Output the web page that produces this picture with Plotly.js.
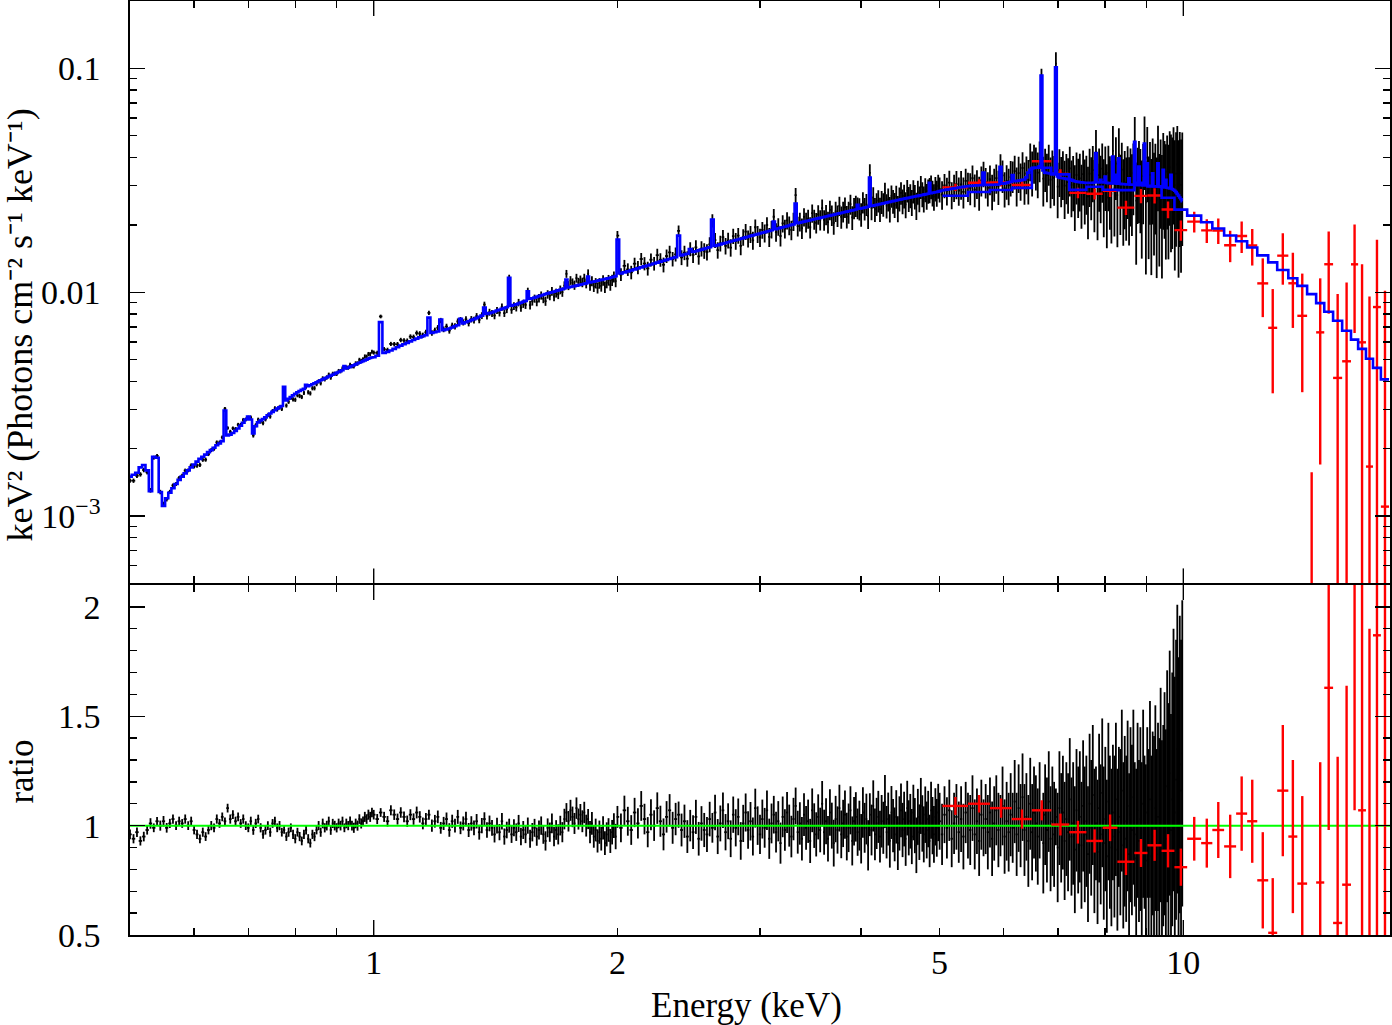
<!DOCTYPE html>
<html>
<head>
<meta charset="utf-8">
<script src="https://cdn.plot.ly/plotly-3.0.1.min.js"></script>
<style>
  html, body { margin: 0; padding: 0; background: #fff; }
  #chart { width: 1392px; height: 1025px; }
</style>
</head>
<body>
<div id="chart"></div>
<script>
// ---------------------------------------------------------------------------
// Spectrum 1 (black): grouped channels 0.5-10 keV
// channel centre energy (keV), folded model (keV^2 photons/cm^2/s/keV),
// data/model ratio and its 1-sigma error
// ---------------------------------------------------------------------------
const blackEnergy = [
  0.500,0.505,0.510,0.515,0.520,0.525,0.530,0.535,0.540,0.545,
  0.550,0.555,0.560,0.565,0.570,0.575,0.580,0.585,0.590,0.595,
  0.600,0.605,0.610,0.615,0.620,0.625,0.630,0.635,0.640,0.645,
  0.650,0.655,0.660,0.665,0.670,0.675,0.680,0.685,0.690,0.695,
  0.700,0.705,0.710,0.715,0.720,0.725,0.730,0.735,0.740,0.745,
  0.750,0.755,0.760,0.765,0.770,0.775,0.780,0.785,0.790,0.795,
  0.800,0.805,0.810,0.815,0.820,0.825,0.830,0.835,0.840,0.845,
  0.850,0.855,0.860,0.865,0.870,0.875,0.880,0.885,0.890,0.895,
  0.900,0.905,0.910,0.915,0.920,0.925,0.930,0.935,0.940,0.945,
  0.950,0.955,0.960,0.965,0.970,0.975,0.980,0.985,0.990,0.995,
  1.00,1.01,1.02,1.03,1.04,1.05,1.06,1.07,1.08,1.09,
  1.10,1.11,1.12,1.13,1.14,1.15,1.16,1.17,1.18,1.19,
  1.20,1.21,1.22,1.23,1.24,1.25,1.26,1.27,1.28,1.29,
  1.30,1.31,1.32,1.33,1.34,1.35,1.36,1.37,1.38,1.39,
  1.40,1.41,1.42,1.43,1.44,1.45,1.46,1.47,1.48,1.49,
  1.50,1.51,1.52,1.53,1.54,1.55,1.56,1.57,1.58,1.59,
  1.60,1.61,1.62,1.63,1.64,1.65,1.66,1.67,1.68,1.69,
  1.70,1.71,1.72,1.73,1.74,1.75,1.76,1.77,1.78,1.79,
  1.80,1.81,1.82,1.83,1.84,1.85,1.86,1.87,1.88,1.89,
  1.90,1.91,1.92,1.93,1.94,1.95,1.96,1.97,1.98,1.99,
  2.00,2.02,2.04,2.06,2.08,2.10,2.12,2.14,2.16,2.18,
  2.20,2.22,2.24,2.26,2.28,2.30,2.32,2.34,2.36,2.38,
  2.40,2.42,2.44,2.46,2.48,2.50,2.52,2.54,2.56,2.58,
  2.60,2.62,2.64,2.66,2.68,2.70,2.72,2.74,2.76,2.78,
  2.80,2.82,2.84,2.86,2.88,2.90,2.92,2.94,2.96,2.98,
  3.00,3.02,3.04,3.06,3.08,3.10,3.12,3.14,3.16,3.18,
  3.20,3.22,3.24,3.26,3.28,3.30,3.32,3.34,3.36,3.38,
  3.40,3.42,3.44,3.46,3.48,3.50,3.52,3.54,3.56,3.58,
  3.60,3.62,3.64,3.66,3.68,3.70,3.72,3.74,3.76,3.78,
  3.80,3.82,3.84,3.86,3.88,3.90,3.92,3.94,3.96,3.98,
  4.00,4.02,4.04,4.06,4.08,4.10,4.12,4.14,4.16,4.18,
  4.20,4.22,4.24,4.26,4.28,4.30,4.32,4.34,4.36,4.38,
  4.40,4.42,4.44,4.46,4.48,4.50,4.52,4.54,4.56,4.58,
  4.60,4.62,4.64,4.66,4.68,4.70,4.72,4.74,4.76,4.78,
  4.80,4.82,4.84,4.86,4.88,4.90,4.92,4.94,4.96,4.98,
  5.000,5.035,5.070,5.105,5.140,5.175,5.210,5.245,5.280,5.315,
  5.350,5.385,5.420,5.455,5.490,5.525,5.560,5.595,5.630,5.665,
  5.700,5.735,5.770,5.805,5.840,5.875,5.910,5.945,5.980,6.015,
  6.050,6.085,6.120,6.155,6.190,6.225,6.260,6.295,6.330,6.365,
  6.400,6.435,6.470,6.505,6.540,6.575,6.610,6.645,6.680,6.715,
  6.750,6.785,6.820,6.855,6.890,6.925,6.960,6.995,7.030,7.065,
  7.100,7.135,7.170,7.205,7.240,7.275,7.310,7.345,7.380,7.415,
  7.450,7.485,7.520,7.555,7.590,7.625,7.660,7.695,7.730,7.765,
  7.800,7.835,7.870,7.905,7.940,7.975,8.010,8.045,8.080,8.115,
  8.150,8.185,8.220,8.255,8.290,8.325,8.360,8.395,8.430,8.465,
  8.500,8.535,8.570,8.605,8.640,8.675,8.710,8.745,8.780,8.815,
  8.850,8.885,8.920,8.955,8.990,9.025,9.060,9.095,9.130,9.165,
  9.200,9.235,9.270,9.305,9.340,9.375,9.410,9.445,9.480,9.515,
  9.550,9.585,9.620,9.655,9.690,9.725,9.760,9.795,9.830,9.865,
  9.900,9.935,9.970
];

const blackModel = [
  0.00150,0.00153,0.00156,0.00165,0.00169,0.00160,0.00129,0.00184,0.00182,0.00128,
  0.00111,0.00120,0.00127,0.00133,0.00139,0.00145,0.00150,0.00155,0.00160,0.00165,
  0.00170,0.00175,0.00180,0.00184,0.00188,0.00193,0.00197,0.00202,0.00207,0.00211,
  0.00216,0.00296,0.00229,0.00231,0.00235,0.00240,0.00246,0.00253,0.00261,0.00270,
  0.00278,0.00270,0.00234,0.00252,0.00262,0.00267,0.00271,0.00276,0.00282,0.00287,
  0.00292,0.00297,0.00302,0.00306,0.00310,0.00378,0.00328,0.00334,0.00340,0.00346,
  0.00352,0.00357,0.00362,0.00366,0.00370,0.00386,0.00380,0.00384,0.00388,0.00392,
  0.00396,0.00400,0.00404,0.00408,0.00412,0.00416,0.00420,0.00424,0.00428,0.00432,
  0.00436,0.00440,0.00444,0.00448,0.00468,0.00456,0.00460,0.00464,0.00468,0.00472,
  0.00476,0.00480,0.00484,0.00488,0.00492,0.00496,0.00500,0.00504,0.00508,0.00511,
  0.00512,0.00520,0.00735,0.00535,0.00541,0.00549,0.00558,0.00568,0.00577,0.00585,
  0.00594,0.00603,0.00612,0.00620,0.00628,0.00636,0.00643,0.00770,0.00657,0.00662,
  0.00667,0.00755,0.00676,0.00682,0.00688,0.00696,0.00704,0.00712,0.00760,0.00726,
  0.00734,0.00742,0.00750,0.00758,0.00766,0.00776,0.00786,0.00855,0.00800,0.00806,
  0.00812,0.00820,0.00828,0.00835,0.00842,0.00849,0.00856,0.01160,0.00870,0.00876,
  0.00882,0.00890,0.00898,0.00906,0.00915,0.01010,0.00932,0.00939,0.00946,0.00953,
  0.00960,0.00967,0.00974,0.00981,0.00988,0.00994,0.01000,0.01006,0.01012,0.01019,
  0.01025,0.01032,0.01038,0.01140,0.01050,0.01055,0.01060,0.01065,0.01070,0.01075,
  0.01080,0.01085,0.01090,0.01095,0.01175,0.01105,0.01110,0.01115,0.01120,0.01125,
  0.01130,0.01135,0.01140,0.01145,0.01150,0.01155,0.01160,0.01166,0.01172,0.01180,
  0.01720,0.01213,0.01226,0.01239,0.01252,0.01265,0.01278,0.01291,0.01304,0.01317,
  0.01330,0.01343,0.01356,0.01369,0.01382,0.01395,0.01408,0.01421,0.01434,0.01790,
  0.01460,0.01473,0.01486,0.01560,0.01512,0.01525,0.01538,0.01550,0.01562,0.01575,
  0.01587,0.02110,0.01611,0.01623,0.01636,0.01648,0.01660,0.01672,0.01684,0.01697,
  0.01709,0.01721,0.01733,0.01745,0.01758,0.01770,0.01782,0.01794,0.01806,0.01818,
  0.01830,0.01842,0.01854,0.01866,0.01878,0.01890,0.02070,0.01914,0.01926,0.01938,
  0.01950,0.01962,0.01974,0.01986,0.01998,0.02010,0.02490,0.02034,0.02046,0.02056,
  0.02066,0.02077,0.02087,0.02097,0.02107,0.02118,0.02128,0.02138,0.02148,0.02158,
  0.02168,0.02179,0.02189,0.02199,0.02209,0.02219,0.02230,0.02240,0.02250,0.02260,
  0.02270,0.02281,0.02291,0.02301,0.02311,0.02321,0.02330,0.02340,0.02460,0.02359,
  0.02369,0.02378,0.02388,0.02398,0.02407,0.03250,0.02426,0.02436,0.02445,0.02455,
  0.02465,0.02474,0.02484,0.02493,0.02503,0.02513,0.02522,0.02532,0.02541,0.02551,
  0.02561,0.02570,0.02580,0.02589,0.02599,0.02608,0.02616,0.02625,0.02633,0.02642,
  0.02651,0.02659,0.02668,0.02676,0.02685,0.02694,0.02702,0.02711,0.02719,0.02728,
  0.02737,0.02745,0.02754,0.03080,0.02771,0.02780,0.02788,0.02797,0.02805,0.02814,
  0.02830,0.02845,0.02860,0.02872,0.02885,0.02898,0.02910,0.02922,0.02935,0.02945,
  0.02955,0.02965,0.02975,0.02983,0.02990,0.02995,0.03000,0.03005,0.03010,0.03420,
  0.03014,0.03015,0.03016,0.03018,0.03020,0.03025,0.03030,0.03630,0.03050,0.03065,
  0.03080,0.03095,0.03110,0.03340,0.03130,0.03140,0.03150,0.03160,0.03175,0.03190,
  0.03260,0.03420,0.03520,0.03570,0.03590,0.03600,0.03600,0.03650,0.09300,0.03500,
  0.03420,0.03410,0.03400,0.03390,0.03385,0.03380,0.10100,0.03290,0.03250,0.03240,
  0.03230,0.03220,0.03210,0.03200,0.03190,0.03180,0.03150,0.03130,0.03120,0.03110,
  0.03100,0.03095,0.03090,0.03085,0.03080,0.03080,0.03080,0.03080,0.03080,0.03090,
  0.04180,0.03100,0.03090,0.03180,0.03100,0.03090,0.03290,0.03080,0.03070,0.03070,
  0.03060,0.04040,0.03060,0.03350,0.03050,0.03970,0.03050,0.03040,0.03040,0.03035,
  0.03030,0.03030,0.03230,0.03025,0.03020,0.03020,0.04700,0.03015,0.03010,0.03640,
  0.03010,0.03005,0.03000,0.04620,0.03000,0.03770,0.02990,0.02985,0.02980,0.03400,
  0.02975,0.02970,0.02965,0.03770,0.02960,0.02955,0.02950,0.03520,0.02940,0.03180,
  0.02930,0.02920,0.02910,0.03350,0.02890,0.02870,0.02840,0.02800,0.02750,0.02700,
  0.02650,0.02600,0.02550
];

const blackRatio = [
  0.96,0.94,0.97,0.93,0.95,0.98,1.01,0.99,1.02,1.00,
  1.02,0.99,1.01,1.03,1.00,1.02,1.01,1.03,1.00,1.02,
  0.98,0.96,0.94,0.97,0.95,0.98,1.00,0.99,1.03,1.01,
  1.04,1.02,1.08,1.03,1.05,1.02,1.04,1.01,1.03,1.00,
  0.99,1.02,0.98,1.01,1.03,0.99,0.96,0.98,1.00,0.97,
  1.01,1.02,0.99,1.00,0.97,0.98,0.95,0.97,0.99,0.96,
  0.94,0.97,0.95,0.93,0.96,0.98,0.94,0.92,0.96,0.95,
  0.98,1.00,0.97,1.01,0.99,1.00,1.02,0.98,1.01,1.00,
  0.99,1.01,1.00,1.02,0.99,1.01,1.00,1.02,1.00,0.99,
  1.01,1.00,1.03,1.01,1.02,1.04,1.03,1.05,1.04,1.06,
  1.05,1.03,1.06,1.04,1.02,1.07,1.05,1.03,1.06,1.04,
  1.02,1.05,1.03,1.06,1.04,1.01,1.03,1.05,1.00,1.02,
  1.04,0.99,1.01,1.03,0.98,1.02,1.00,1.04,0.99,1.01,
  1.03,0.98,1.01,0.99,1.02,0.97,1.00,1.03,0.98,1.01,
  0.99,0.96,1.00,0.97,1.02,0.95,0.98,1.00,0.96,0.99,
  0.97,1.01,0.95,0.98,0.96,1.00,0.94,0.97,0.99,0.95,
  0.98,1.00,0.96,0.93,0.99,0.97,1.01,0.95,0.98,0.96,
  1.00,0.97,1.03,1.06,1.02,1.07,1.04,1.01,1.08,1.03,
  1.05,1.02,1.06,1.00,1.03,0.97,1.01,0.95,0.98,0.93,
  0.97,0.94,0.99,0.92,0.96,0.98,0.93,0.97,1.00,0.95,
  1.04,0.99,1.07,1.02,0.98,1.06,1.01,1.09,1.03,0.97,
  1.05,1.00,1.08,1.02,0.96,1.04,1.07,0.99,1.03,1.05,
  0.98,1.02,0.95,1.00,0.97,1.04,0.94,1.01,0.98,0.96,
  1.03,0.99,1.06,0.95,1.01,1.07,0.97,1.02,0.94,1.05,
  0.99,1.04,0.93,1.01,1.06,0.98,1.02,0.95,1.08,1.00,
  0.96,1.03,0.99,1.07,0.94,1.01,1.05,0.97,1.02,0.92,
  1.04,0.98,1.06,1.00,0.95,1.03,1.09,0.97,1.01,0.94,
  1.05,0.99,1.02,0.93,1.07,1.00,0.96,1.04,0.98,1.10,
  0.97,1.02,0.94,1.06,1.00,0.92,1.03,0.98,1.08,0.96,
  1.01,1.05,0.95,0.99,1.07,0.93,1.02,1.04,0.97,1.00,
  0.94,1.06,0.99,1.03,0.91,1.05,0.98,1.09,0.96,1.01,
  1.04,0.95,1.02,0.99,1.11,0.97,1.03,0.93,1.06,1.00,
  0.96,1.04,0.92,1.01,1.07,0.98,1.03,0.94,1.08,0.99,
  1.02,0.95,1.06,1.00,0.91,1.04,0.97,1.09,1.01,0.96,
  1.05,0.98,1.03,0.93,1.07,1.00,0.96,1.04,0.99,1.06,
  1.02,0.96,1.05,0.99,1.07,0.94,1.01,1.04,0.97,1.03,
  0.95,1.06,1.00,0.98,1.08,0.96,1.02,0.93,1.05,0.99,
  1.03,0.97,1.06,0.94,1.01,1.07,0.98,1.00,1.09,0.95,
  1.02,0.97,1.05,0.99,1.11,0.96,1.08,1.00,1.13,0.98,
  1.04,0.93,1.10,0.97,1.06,1.01,0.95,1.07,1.00,0.92,
  1.05,0.98,1.11,0.94,1.02,0.96,1.04,0.90,1.08,0.99,
  1.06,0.93,1.03,0.97,1.12,0.95,1.01,0.89,1.07,0.98,
  1.04,0.91,1.09,0.96,1.02,0.87,1.10,0.99,1.14,0.93,
  1.01,0.88,1.08,0.96,1.15,0.92,1.03,0.86,1.11,0.97,
  0.90,1.06,0.95,1.12,0.89,1.04,0.97,1.16,0.91,1.02,
  0.94,1.09,0.87,1.05,0.98,1.13,0.96,0.85,1.07,0.93,
  1.03,0.88,1.10,0.97,0.84,1.06,0.91,1.12,0.86,1.01,
  0.95,1.08,0.87,1.04,0.92,1.14,0.89,1.00,1.10,0.94,
  1.18,1.02,1.24,0.98,1.12,1.30,1.06,1.21,1.35,1.10,
  1.28,1.16,1.33
];

const blackRatioErr = [
  0.022,0.021,0.022,0.021,0.022,0.021,0.024,0.020,0.020,0.023,
  0.024,0.022,0.021,0.021,0.020,0.021,0.020,0.021,0.020,0.021,
  0.020,0.021,0.020,0.021,0.020,0.020,0.021,0.020,0.021,0.020,
  0.020,0.017,0.020,0.021,0.020,0.021,0.020,0.020,0.021,0.020,
  0.020,0.021,0.022,0.021,0.020,0.021,0.020,0.021,0.020,0.021,
  0.020,0.021,0.020,0.021,0.020,0.017,0.020,0.021,0.020,0.021,
  0.021,0.020,0.021,0.020,0.021,0.020,0.021,0.020,0.021,0.021,
  0.020,0.021,0.021,0.022,0.021,0.022,0.021,0.022,0.021,0.022,
  0.021,0.022,0.022,0.021,0.020,0.022,0.021,0.022,0.022,0.023,
  0.022,0.023,0.022,0.023,0.022,0.023,0.022,0.023,0.023,0.022,
  0.022,0.023,0.020,0.023,0.024,0.023,0.024,0.025,0.024,0.025,
  0.026,0.025,0.026,0.027,0.026,0.027,0.028,0.023,0.028,0.029,
  0.029,0.027,0.030,0.030,0.031,0.030,0.031,0.032,0.029,0.032,
  0.033,0.032,0.033,0.034,0.033,0.034,0.035,0.031,0.035,0.036,
  0.036,0.037,0.036,0.037,0.038,0.037,0.038,0.032,0.039,0.039,
  0.040,0.039,0.040,0.041,0.040,0.037,0.041,0.042,0.041,0.042,
  0.043,0.042,0.043,0.044,0.043,0.044,0.045,0.044,0.045,0.046,
  0.045,0.046,0.047,0.043,0.047,0.048,0.047,0.048,0.049,0.048,
  0.049,0.050,0.049,0.050,0.046,0.051,0.052,0.051,0.052,0.053,
  0.053,0.054,0.053,0.054,0.055,0.054,0.055,0.056,0.057,0.058,
  0.050,0.066,0.067,0.066,0.068,0.067,0.069,0.068,0.070,0.069,
  0.071,0.070,0.072,0.071,0.073,0.072,0.074,0.073,0.074,0.060,
  0.075,0.076,0.075,0.072,0.077,0.078,0.077,0.079,0.078,0.080,
  0.079,0.068,0.081,0.080,0.082,0.081,0.083,0.082,0.084,0.083,
  0.085,0.084,0.086,0.085,0.087,0.086,0.088,0.087,0.089,0.088,
  0.090,0.089,0.091,0.090,0.092,0.091,0.086,0.093,0.092,0.094,
  0.093,0.095,0.094,0.096,0.095,0.097,0.084,0.098,0.097,0.099,
  0.098,0.100,0.099,0.101,0.100,0.102,0.101,0.103,0.102,0.104,
  0.103,0.105,0.104,0.106,0.105,0.107,0.106,0.108,0.107,0.109,
  0.108,0.110,0.109,0.111,0.110,0.112,0.111,0.113,0.108,0.114,
  0.113,0.115,0.114,0.116,0.115,0.098,0.116,0.117,0.118,0.117,
  0.119,0.118,0.120,0.119,0.121,0.120,0.121,0.122,0.121,0.122,
  0.123,0.122,0.123,0.124,0.123,0.124,0.125,0.124,0.125,0.126,
  0.125,0.126,0.127,0.126,0.127,0.128,0.127,0.128,0.129,0.128,
  0.129,0.130,0.129,0.120,0.130,0.131,0.130,0.131,0.132,0.131,
  0.13,0.14,0.13,0.14,0.14,0.13,0.14,0.15,0.14,0.15,
  0.15,0.14,0.15,0.16,0.15,0.16,0.15,0.16,0.16,0.13,
  0.16,0.17,0.16,0.17,0.17,0.16,0.17,0.14,0.18,0.17,
  0.18,0.18,0.19,0.16,0.19,0.19,0.20,0.19,0.20,0.21,
  0.20,0.21,0.21,0.22,0.21,0.22,0.22,0.22,0.07,0.23,
  0.23,0.24,0.23,0.24,0.25,0.24,0.13,0.25,0.26,0.25,
  0.26,0.27,0.26,0.27,0.28,0.27,0.28,0.29,0.28,0.29,
  0.30,0.29,0.30,0.31,0.30,0.31,0.32,0.31,0.32,0.33,
  0.26,0.33,0.34,0.32,0.34,0.35,0.33,0.35,0.36,0.35,
  0.36,0.31,0.37,0.35,0.37,0.32,0.38,0.37,0.38,0.39,
  0.38,0.39,0.37,0.40,0.39,0.40,0.33,0.41,0.40,0.37,
  0.42,0.41,0.43,0.35,0.44,0.39,0.44,0.45,0.46,0.42,
  0.46,0.47,0.48,0.43,0.48,0.49,0.50,0.46,0.51,0.50,
  0.53,0.54,0.56,0.53,0.58,0.60,0.62,0.64,0.66,0.67,
  0.68,0.69,0.70
];

// ---------------------------------------------------------------------------
// Spectrum 2 (red): coarse bins 5-18 keV
// bin edges (keV), folded model per bin, data/model ratio and its error
// ---------------------------------------------------------------------------
const redEdges = [
  5.04,5.42,5.77,6.14,6.50,6.87,7.23,7.59,7.95,8.29,8.70,9.03,9.40,9.75,
  10.11,10.52,10.86,11.23,11.62,11.99,12.34,12.73,13.06,13.48,13.83,14.22,
  14.59,14.93,15.31,15.71,16.11,16.44,16.81,17.15,17.54,17.95
];
const redModel = [
  0.02698,0.02803,0.02861,0.02926,0.03597,0.03362,0.02864,0.02959,0.02867,0.02858,
  0.03080,0.02971,0.02644,0.02339,0.02199,0.02053,0.01925,0.01792,0.01690,0.01585,
  0.01460,0.01359,0.01256,0.01154,0.01067,0.00980,0.00894,0.00818,0.00746,0.00673,
  0.00614,0.00558,0.00504,0.00459,0.00408
];
const redRatio = [
  1.09,1.10,1.08,1.03,1.07,1.005,0.97,0.93,0.99,0.835,
  0.875,0.91,0.885,0.81,0.94,0.92,0.98,0.905,1.055,1.02,
  0.75,0.51,1.16,0.95,0.735,0.02,0.74,1.63,0.555,0.73,
  2.17,1.07,0.33,1.87,0.27
];
const redRatioErr = [
  0.041,0.040,0.044,0.044,0.046,0.050,0.052,0.053,0.061,0.061,
  0.064,0.071,0.076,0.085,0.100,0.112,0.128,0.145,0.170,0.190,
  0.220,0.250,0.300,0.350,0.400,0.140,0.550,0.650,0.760,0.910,
  1.100,1.320,1.570,1.870,2.220
];

// Axis settings
const X_RANGE = [0.5, 18];                 // keV
const Y_TOP_RANGE = [5e-4, 0.2];           // keV^2 photons cm^-2 s^-1 keV^-1
const Y_RATIO_RANGE = [0.5, 2.1];
const X_TICKS = [1, 2, 5, 10];
const X_DECADE_TICKS = [1, 10];
const X_MINOR = [0.6, 0.7, 0.8, 0.9, 3, 4, 6, 7, 8, 9];
const Y_TOP_TICKS = [0.001, 0.01, 0.1];
const Y_TOP_TICKTEXT = ['10<sup>\u22123</sup>', '0.01', '0.1'];
const Y_TOP_MINOR = [6e-4, 7e-4, 8e-4, 9e-4, 2e-3, 3e-3, 4e-3, 5e-3, 6e-3, 7e-3, 8e-3, 9e-3,
                     0.02, 0.03, 0.04, 0.05, 0.06, 0.07, 0.08, 0.09, 0.2];
const Y_RATIO_TICKS = [0.5, 1, 1.5, 2];
const Y_RATIO_MINOR = [0.6, 0.7, 0.8, 0.9, 1.1, 1.2, 1.3, 1.4, 1.6, 1.7, 1.8, 1.9];

// ---------------------------------------------------------------------------
// Derived quantities
// ---------------------------------------------------------------------------
const blackFlux = blackModel.map((m, i) => m * blackRatio[i]);
const blackFluxErr = blackModel.map((m, i) => m * blackRatioErr[i]);
const blackHalfLo = blackEnergy.map((e, i, a) =>
  i > 0 ? (e - a[i - 1]) / 2 : (a[1] - a[0]) / 2);
const blackHalfHi = blackEnergy.map((e, i, a) =>
  i < a.length - 1 ? (a[i + 1] - e) / 2 : (e - a[i - 1]) / 2);

const redCentre = redModel.map((_, i) => (redEdges[i] + redEdges[i + 1]) / 2);
const redHalfLo = redCentre.map((c, i) => c - redEdges[i]);
const redHalfHi = redCentre.map((c, i) => redEdges[i + 1] - c);
const redFlux = redModel.map((m, i) => m * redRatio[i]);
const redFluxErr = redModel.map((m, i) => m * redRatioErr[i]);
const redModelStep = redModel.concat([redModel[redModel.length - 1]]);

const BLACK = '#000000', RED = '#ff0000', BLUE = '#0000ff', GREEN = '#00ff00';
const FONT = 'Liberation Serif, Times New Roman, serif';

function errX(lo, hi, color, w) {
  return { type: 'data', symmetric: false, array: hi, arrayminus: lo,
           color: color, thickness: w, width: 0 };
}
function errY(arr, color, w) {
  return { type: 'data', symmetric: true, array: arr, color: color, thickness: w, width: 0 };
}
const hidden = { size: 1, color: 'rgba(0,0,0,0)' };

const traces = [
  // upper panel: unfolded spectra
  { x: blackEnergy, y: blackFlux, xaxis: 'x', yaxis: 'y', mode: 'markers', marker: hidden,
    error_x: errX(blackHalfLo, blackHalfHi, BLACK, 1.8),
    error_y: errY(blackFluxErr, BLACK, 1.8), hoverinfo: 'skip' },
  { x: redCentre, y: redFlux, xaxis: 'x', yaxis: 'y', mode: 'markers', marker: hidden,
    error_x: errX(redHalfLo, redHalfHi, RED, 2.4),
    error_y: errY(redFluxErr, RED, 2.4), hoverinfo: 'skip' },
  { x: blackEnergy, y: blackModel, xaxis: 'x', yaxis: 'y', mode: 'lines',
    line: { color: BLUE, width: 2.6, shape: 'hvh', simplify: false }, hoverinfo: 'skip' },
  { x: redEdges, y: redModelStep, xaxis: 'x', yaxis: 'y', mode: 'lines',
    line: { color: BLUE, width: 2.6, shape: 'hv', simplify: false }, hoverinfo: 'skip' },

  // lower panel: data / model
  { x: blackEnergy, y: blackRatio, xaxis: 'x', yaxis: 'y2', mode: 'markers', marker: hidden,
    error_x: errX(blackHalfLo, blackHalfHi, BLACK, 1.8),
    error_y: errY(blackRatioErr, BLACK, 1.8), hoverinfo: 'skip' },
  { x: X_RANGE, y: [1, 1], xaxis: 'x', yaxis: 'y2', mode: 'lines',
    line: { color: GREEN, width: 2 }, hoverinfo: 'skip' },
  { x: redCentre, y: redRatio, xaxis: 'x', yaxis: 'y2', mode: 'markers', marker: hidden,
    error_x: errX(redHalfLo, redHalfHi, RED, 2.4),
    error_y: errY(redRatioErr, RED, 2.4), hoverinfo: 'skip' }
];

const LINE_W = 1.6;
const tickCommon = {
  ticks: 'inside', tickcolor: BLACK, tickwidth: 1.4,
  showline: true, linecolor: BLACK, linewidth: LINE_W,
  showgrid: false, zeroline: false,
  tickfont: { family: FONT, size: 34, color: BLACK }
};
const minorCommon = { ticks: 'inside', ticklen: 7, tickwidth: 1.4, tickcolor: BLACK,
                      showgrid: false, tickmode: 'array' };

// panel split: lower panel 350 px of the 934 px plot height; the upper panel
// starts one line width higher so that the two frame lines coincide
const PLOT_H = 934;
const splitFrac = 350 / PLOT_H;
const topStart = splitFrac + LINE_W / PLOT_H;

// long decade ticks at 1 and 10 keV on every horizontal frame edge
const lx0 = Math.log10(X_RANGE[0]), lx1 = Math.log10(X_RANGE[1]);
const shapes = [];
X_DECADE_TICKS.forEach(v => {
  const fx = (Math.log10(v) - lx0) / (lx1 - lx0);
  [['y domain', 0, 1], ['y domain', 1, -1], ['y2 domain', 0, 1], ['y2 domain', 1, -1]]
    .forEach(([ref, anchor, dir]) => {
      shapes.push({ type: 'line', xref: 'x domain', x0: fx, x1: fx,
        yref: ref, ysizemode: 'pixel', yanchor: anchor, y0: 0, y1: 15 * dir,
        line: { color: BLACK, width: 1.4 } });
    });
});

const layout = {
  width: 1392, height: 1025,
  margin: { l: 130, r: 2, t: 1, b: 90 },
  paper_bgcolor: '#ffffff', plot_bgcolor: '#ffffff',
  showlegend: false,
  font: { family: FONT, color: BLACK, size: 34 },
  xaxis: Object.assign({}, tickCommon, {
    type: 'log', range: [lx0, lx1], anchor: 'y2', mirror: 'allticks',
    tickmode: 'array', tickvals: X_TICKS, ticktext: X_TICKS.map(String), ticklen: 7,
    ticklabelstandoff: -3,
    minor: Object.assign({}, minorCommon, { tickvals: X_MINOR })
  }),
  yaxis: Object.assign({}, tickCommon, {
    type: 'log', domain: [topStart, 1], anchor: 'x', mirror: 'ticks',
    range: [Math.log10(Y_TOP_RANGE[0]), Math.log10(Y_TOP_RANGE[1])],
    tickmode: 'array', tickvals: Y_TOP_TICKS, ticktext: Y_TOP_TICKTEXT, ticklen: 15,
    ticklabelstandoff: 21,
    minor: Object.assign({}, minorCommon, { tickvals: Y_TOP_MINOR })
  }),
  yaxis2: Object.assign({}, tickCommon, {
    domain: [0, splitFrac], anchor: 'x', mirror: 'ticks',
    range: Y_RATIO_RANGE,
    tickmode: 'array', tickvals: Y_RATIO_TICKS, ticktext: Y_RATIO_TICKS.map(String), ticklen: 15,
    ticklabelstandoff: 21,
    minor: Object.assign({}, minorCommon, { tickvals: Y_RATIO_MINOR })
  }),
  shapes: shapes,
  annotations: [
    { text: 'Energy (keV)', xref: 'paper', yref: 'paper', x: 0.4889, y: -0.076,
      xanchor: 'center', yanchor: 'middle', showarrow: false,
      font: { family: FONT, size: 35, color: BLACK } },
    { text: 'keV\u00b2 (Photons cm\u207b\u00b2 s\u207b\u00b9 keV\u207b\u00b9)',
      xref: 'paper', yref: 'paper', x: -0.0873, y: 0.6526, textangle: -90,
      xanchor: 'center', yanchor: 'middle', showarrow: false,
      font: { family: FONT, size: 36, color: BLACK } },
    { text: 'ratio', xref: 'paper', yref: 'paper', x: -0.0857, y: 0.175, textangle: -90,
      xanchor: 'center', yanchor: 'middle', showarrow: false,
      font: { family: FONT, size: 35, color: BLACK } }
  ]
};

Plotly.newPlot('chart', traces, layout, { staticPlot: true, displayModeBar: false });
</script>
</body>
</html>
